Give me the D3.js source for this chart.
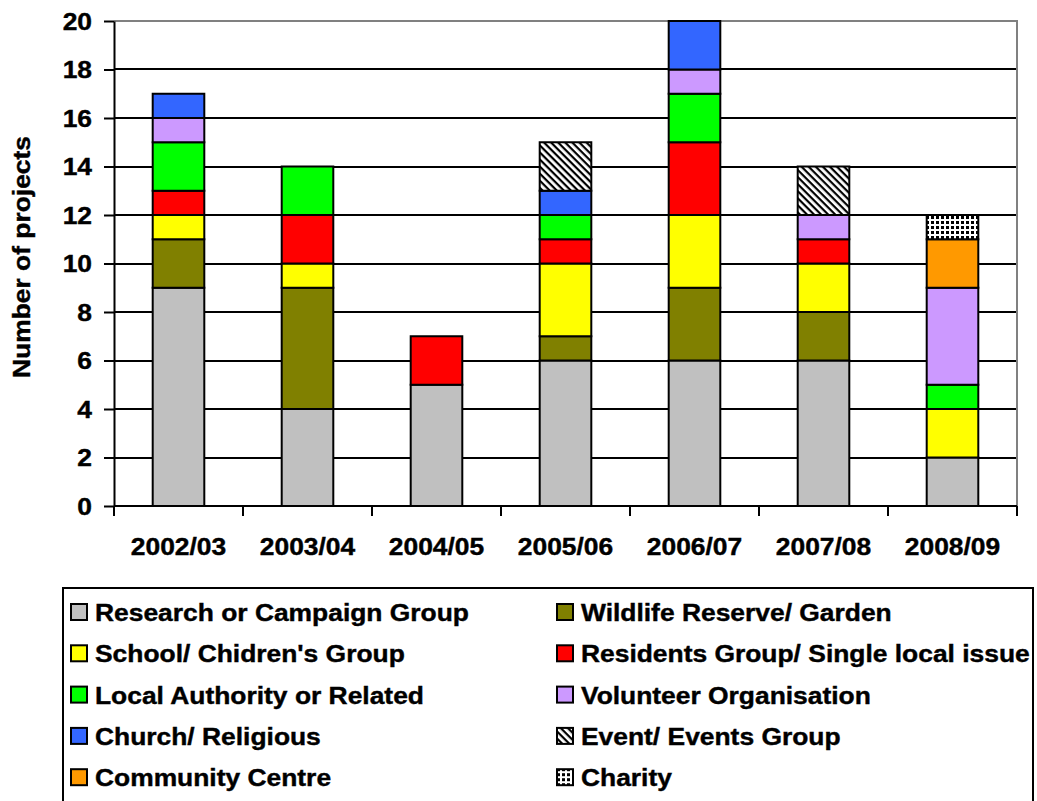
<!DOCTYPE html>
<html>
<head>
<meta charset="utf-8">
<script src="https://cdn.jsdelivr.net/npm/d3@7"></script>
<style>
  html, body { margin: 0; padding: 0; background: #fff; }
  svg { display: block; font-family: "Liberation Sans", Arial, sans-serif; font-weight: bold; }
  svg text { stroke: #000; stroke-width: 0.4px; fill: #000; }
</style>
</head>
<body>
<svg id="chart" width="1037" height="801"></svg>
<script>
// Financial years on the x axis
const years = ["2002/03", "2003/04", "2004/05", "2005/06", "2006/07", "2007/08", "2008/09"];

// Group types, in stacking order (bottom to top)
const groups = [
  "Research or Campaign Group",
  "Wildlife Reserve/ Garden",
  "School/ Chidren's Group",
  "Residents Group/ Single local issue",
  "Local Authority or Related",
  "Volunteer Organisation",
  "Church/ Religious",
  "Event/ Events Group",
  "Community Centre",
  "Charity"
];

// Number of projects per group, one value per year
const research    = [9, 4, 5, 6, 6, 6, 2];
const wildlife    = [2, 5, 0, 1, 3, 2, 0];
const school      = [1, 1, 0, 3, 3, 2, 2];
const residents   = [1, 2, 2, 1, 3, 1, 0];
const localAuth   = [2, 2, 0, 1, 2, 0, 1];
const volunteer   = [1, 0, 0, 0, 1, 1, 4];
const church      = [1, 0, 0, 1, 2, 0, 0];
const events      = [0, 0, 0, 2, 0, 2, 0];
const community   = [0, 0, 0, 0, 0, 0, 2];
const charity     = [0, 0, 0, 0, 0, 0, 1];

const seriesValues = [research, wildlife, school, residents, localAuth, volunteer, church, events, community, charity];

const yTicks = [0, 2, 4, 6, 8, 10, 12, 14, 16, 18, 20];

const fills = ["#C0C0C0", "#808000", "#FFFF00", "#FF0000", "#00FF00", "#CC99FF", "#3366FF",
               "url(#hatch)", "#FF9900", "url(#dots)"];

// Table built for d3.stack
const table = years.map((y, i) => {
  const row = { year: y };
  groups.forEach((g, k) => { row[g] = seriesValues[k][i]; });
  return row;
});

const svg = d3.select("#chart");
const defs = svg.append("defs");

// Diagonal hatching for events
const hatch = defs.append("pattern")
  .attr("id", "hatch").attr("patternUnits", "userSpaceOnUse")
  .attr("width", 5).attr("height", 5)
  .attr("patternTransform", "rotate(45)");
hatch.append("rect").attr("width", 5).attr("height", 5).attr("fill", "#fff");
hatch.append("rect").attr("width", 5).attr("height", 2.2).attr("fill", "#000");

// Dotted grid for charity
const dots = defs.append("pattern")
  .attr("id", "dots").attr("patternUnits", "userSpaceOnUse")
  .attr("width", 5).attr("height", 5);
dots.append("rect").attr("width", 5).attr("height", 5).attr("fill", "#fff");
dots.append("rect").attr("x", 1).attr("y", 1).attr("width", 3).attr("height", 3)
  .attr("fill", "#000").attr("shape-rendering", "crispEdges");

const plot = { left: 114, right: 1017, top: 21, bottom: 506 };

const x = d3.scaleBand().domain(years).range([plot.left, plot.right]).paddingInner(0.6).paddingOuter(0.3);
const xCell = d3.scaleBand().domain(years).range([plot.left, plot.right]);
const y = d3.scaleLinear().domain([0, 20]).range([plot.bottom, plot.top]);

const textScale = 1.1;
const fontSize = 24;

// Horizontal gridlines
svg.append("g").selectAll("line")
  .data(yTicks.filter(t => t > 0 && t < 20))
  .join("line")
  .attr("x1", plot.left).attr("x2", plot.right)
  .attr("y1", d => Math.round(y(d))).attr("y2", d => Math.round(y(d)))
  .attr("stroke", "#000").attr("stroke-width", 2);

// Plot area border (top and right)
svg.append("path")
  .attr("d", `M${plot.left},${y(20)}H${plot.right}V${plot.bottom}`)
  .attr("fill", "none").attr("stroke", "#808080").attr("stroke-width", 2);

// Stacked bars
const stacked = d3.stack().keys(groups)(table);
svg.append("g").selectAll("g")
  .data(stacked)
  .join("g")
  .attr("fill", (d, k) => fills[k])
  .selectAll("rect")
  .data(d => d.filter(s => s[1] - s[0] > 0))
  .join("rect")
  .attr("x", d => x(d.data.year))
  .attr("width", x.bandwidth())
  .attr("y", d => y(d[1]))
  .attr("height", d => y(d[0]) - y(d[1]))
  .attr("stroke", "#000").attr("stroke-width", 2);

// Y axis
const yAxis = svg.append("g")
  .attr("transform", `translate(${plot.left},0)`)
  .call(d3.axisLeft(y).tickValues(yTicks).tickSize(10).tickSizeOuter(0).tickPadding(0));
yAxis.select(".domain").attr("stroke", "#000").attr("stroke-width", 2);
yAxis.selectAll(".tick line").attr("stroke", "#000").attr("stroke-width", 2);
yAxis.selectAll(".tick text")
  .attr("x", null).attr("dy", null)
  .attr("transform", `translate(-22,8) scale(${textScale},1)`)
  .attr("font-size", fontSize).attr("font-family", null).attr("fill", "#000");

// X axis: ticks at the category boundaries
const boundaries = years.map(yr => xCell(yr)).concat([plot.right]);
const xAxis = svg.append("g");
xAxis.append("line")
  .attr("x1", plot.left).attr("x2", plot.right)
  .attr("y1", plot.bottom).attr("y2", plot.bottom)
  .attr("stroke", "#000").attr("stroke-width", 2);
xAxis.selectAll("line.tk")
  .data(boundaries)
  .join("line").attr("class", "tk")
  .attr("x1", d => d).attr("x2", d => d)
  .attr("y1", plot.bottom).attr("y2", plot.bottom + 10)
  .attr("stroke", "#000").attr("stroke-width", 2);
xAxis.selectAll("text")
  .data(years)
  .join("text")
  .attr("transform", d => `translate(${x(d) + x.bandwidth() / 2},555) scale(${textScale},1)`)
  .attr("text-anchor", "middle")
  .attr("font-size", fontSize)
  .text(d => d);

// Y axis title
svg.append("text")
  .attr("transform", `translate(30,257) rotate(-90) scale(${textScale},1)`)
  .attr("text-anchor", "middle")
  .attr("font-size", fontSize)
  .text("Number of projects");

// Legend
const legend = svg.append("g");
legend.append("rect")
  .attr("x", 63).attr("y", 588).attr("width", 970).attr("height", 230)
  .attr("fill", "#fff").attr("stroke", "#000").attr("stroke-width", 2);

const colX = [70, 556];
const rowY = d3.range(5).map(r => 612 + r * 41.3);
const items = legend.selectAll("g.item")
  .data(groups)
  .join("g").attr("class", "item")
  .attr("transform", (d, i) => `translate(${colX[i % 2]},${rowY[Math.floor(i / 2)]})`);
items.append("rect")
  .attr("x", 1).attr("y", -8).attr("width", 16).attr("height", 16)
  .attr("fill", (d, i) => fills[i])
  .attr("stroke", "#000").attr("stroke-width", 2);
items.append("text")
  .attr("transform", `translate(25,9) scale(${textScale},1)`)
  .attr("font-size", fontSize)
  .text(d => d);
</script>
</body>
</html>
